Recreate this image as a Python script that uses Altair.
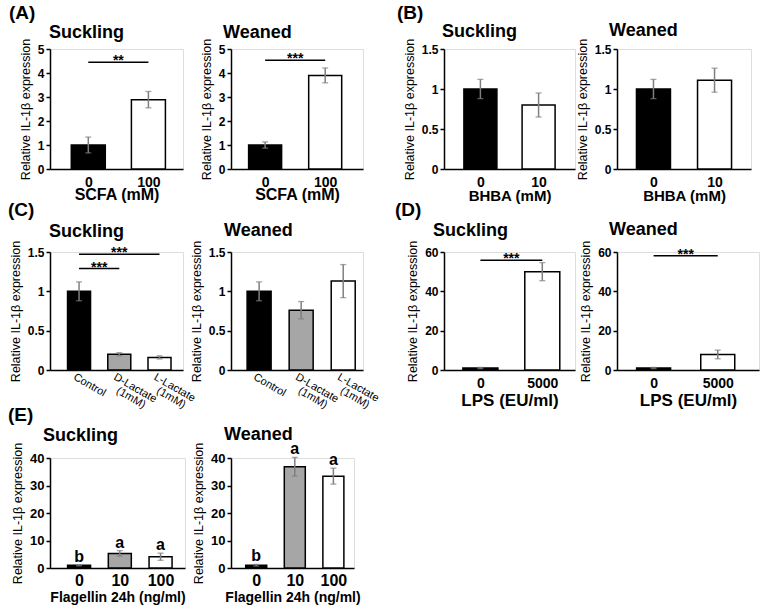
import json
import altair as alt
import pandas as pd

FONT = "Liberation Sans"
Y_TITLE = "Relative IL-1β expression"
ERR_GREY = "#7f7f7f"

# ---------------- data ----------------
# (A) short-chain fatty acids
scfa_doses = ["0", "100"]
scfa_suckling_mean = [1.00, 2.89]
scfa_suckling_sem = [0.33, 0.34]
scfa_weaned_mean = [1.00, 3.90]
scfa_weaned_sem = [0.13, 0.31]
scfa_yticks = [0, 1, 2, 3, 4, 5]
scfa_suckling_sig = [(0, 1, 4.45, "**")]
scfa_weaned_sig = [(0, 1, 4.53, "***")]

# (B) beta-hydroxybutyrate
bhba_doses = ["0", "10"]
bhba_suckling_mean = [1.00, 0.80]
bhba_suckling_sem = [0.12, 0.15]
bhba_weaned_mean = [1.00, 1.11]
bhba_weaned_sem = [0.12, 0.15]
bhba_yticks = [0, 0.5, 1, 1.5]

# (C) lactate isomers
lactate_groups = ["Control", "D-Lactate\n(1mM)", "L-Lactate\n(1mM)"]
lactate_suckling_mean = [1.00, 0.20, 0.16]
lactate_suckling_sem = [0.12, 0.02, 0.02]
lactate_weaned_mean = [1.00, 0.76, 1.13]
lactate_weaned_sem = [0.12, 0.11, 0.21]
lactate_yticks = [0, 0.5, 1, 1.5]
lactate_suckling_sig = [(0, 2, 1.47, "***"), (0, 1, 1.29, "***")]

# (D) lipopolysaccharide
lps_doses = ["0", "5000"]
lps_suckling_mean = [1.0, 50.0]
lps_suckling_sem = [0.3, 4.6]
lps_weaned_mean = [1.0, 7.9]
lps_weaned_sem = [0.3, 2.2]
lps_yticks = [0, 20, 40, 60]
lps_suckling_sig = [(0, 1, 55.8, "***")]
lps_weaned_sig = [(0, 1, 58.1, "***")]

# (E) flagellin, 24 h
flag_doses = ["0", "10", "100"]
flag_suckling_mean = [1.0, 5.3, 4.1]
flag_suckling_sem = [0.2, 1.0, 1.3]
flag_weaned_mean = [1.0, 36.8, 33.4]
flag_weaned_sem = [0.3, 3.4, 2.9]
flag_letters = ["b", "a", "a"]
flag_yticks = [0, 10, 20, 30, 40]

fills_2 = ["#000000", "#ffffff"]
fills_3 = ["#000000", "#a6a6a6", "#ffffff"]

# slanted category names: first line starts at the bar centre, a second
# line sits centred beneath it (offsets are in the rotated text frame)
SLANT_ANGLE = 30
SLANT_LINES = [
    {"align": "left", "dx": -1, "dy": 8},
    {"align": "center", "dx": 24, "dy": 18.5},
]


def bar_table(labels, means, sems, fills, letters=None):
    return pd.DataFrame({
        "pos": list(range(len(labels))),
        "label": labels,
        "mean": means,
        "lo": [m - s for m, s in zip(means, sems)],
        "hi": [m + s for m, s in zip(means, sems)],
        "fill": fills,
        "letter": letters if letters else [""] * len(labels),
    })


def text_layer(text, x, y, size):
    return alt.Chart(pd.DataFrame({"k": [0]})).mark_text(
        text=text, align="left", baseline="alphabetic", font=FONT,
        fontSize=size, fontWeight="bold", color="black",
    ).encode(x=alt.value(x), y=alt.value(y))


def spacer(w=1, h=1):
    # an empty cell that only reserves room in the grid
    return alt.Chart(pd.DataFrame({"k": [0]})).mark_text(
        text=" ", opacity=0).encode(x=alt.value(0), y=alt.value(0)).properties(
        width=w, height=h,
        view=alt.ViewBackground(strokeOpacity=0, fillOpacity=0, strokeWidth=0))


def panel(labels, means, sems, fills, yticks, *, width, height, c0, step, bar,
          title, title_xy, letter=None, letter_xy=(0, 0), xtitle=None,
          xtitle_y=30, xtitle_size=16, xlabel_size=14, ylabel_size=12,
          rotated=False, sig=(), letters=None):
    df = bar_table(labels, means, sems, fills, letters)
    n = len(labels)
    xdom = [-c0 / step, (width - c0) / step]

    if rotated:
        xaxis = alt.Axis(
            values=list(range(n)), labels=False, title=None, ticks=False,
            grid=False, domainColor="black", domainWidth=1.5,
        )
    else:
        expr = json.dumps(labels) + "[datum.value]"
        xaxis = alt.Axis(
            values=list(range(n)), labelExpr=expr, title=xtitle, ticks=False,
            grid=False, labelAngle=0, labelBaseline="alphabetic",
            labelPadding=17, labelFontSize=xlabel_size, labelFontWeight="bold",
            labelOverlap=False, labelFlush=False,
            titleFontSize=xtitle_size, titleFontWeight="bold",
            titleBaseline="alphabetic", titleY=xtitle_y, titleColor="black",
            domainColor="black", domainWidth=1.5, labelColor="black",
        )
    xscale = alt.Scale(domain=xdom, nice=False, zero=False)
    yaxis = alt.Axis(
        values=yticks, format="~f", title=Y_TITLE, grid=False, tickSize=4,
        tickWidth=1.5, tickColor="black", domainColor="black", domainWidth=1.5,
        labelFontSize=ylabel_size, labelFontWeight="bold", labelPadding=2,
        labelColor="black", titleFontSize=12.5, titleFontWeight="normal",
        titlePadding=5, titleColor="black",
    )
    yscale = alt.Scale(domain=[0, yticks[-1]], nice=False)

    def xe(field):
        return alt.X(field, scale=xscale, axis=xaxis)

    def ye(field):
        return alt.Y(field, scale=yscale, axis=yaxis)

    base = alt.Chart(df)
    bars = base.mark_bar(size=bar, stroke="black", strokeWidth=1.5).encode(
        x=xe("pos:Q"), y=ye("mean:Q"),
        fill=alt.Fill("fill:N", scale=None, legend=None),
    )
    err = base.mark_rule(color=ERR_GREY, strokeWidth=1.5).encode(
        x=xe("pos:Q"), y=ye("lo:Q"), y2="hi:Q")
    cap_lo = base.mark_tick(orient="horizontal", size=6, thickness=1.3,
                            color=ERR_GREY).encode(x=xe("pos:Q"), y=ye("lo:Q"))
    cap_hi = base.mark_tick(orient="horizontal", size=6, thickness=1.3,
                            color=ERR_GREY).encode(x=xe("pos:Q"), y=ye("hi:Q"))
    layers = [bars, err, cap_lo, cap_hi]

    if rotated:
        rows = []
        for i, lab in enumerate(labels):
            for k, part in enumerate(lab.split("\n")):
                rows.append({"pos": i, "txt": part, "line": k})
        ldf = pd.DataFrame(rows)
        for k, style in enumerate(SLANT_LINES):
            sub = ldf[ldf["line"] == k].reset_index(drop=True)
            if sub.empty:
                continue
            layers.append(alt.Chart(sub).mark_text(
                angle=SLANT_ANGLE, align=style["align"], baseline="middle",
                dx=style["dx"], dy=style["dy"], font=FONT, fontSize=11,
                color="black",
            ).encode(x=xe("pos:Q"), y=alt.value(height), text="txt:N"))

    if sig:
        sdf = pd.DataFrame(sig, columns=["a", "b", "y", "stars"])
        sdf["mid"] = (sdf["a"] + sdf["b"]) / 2
        sbase = alt.Chart(sdf)
        layers.append(sbase.mark_rule(color="black", strokeWidth=1.5).encode(
            x=xe("a:Q"), x2="b:Q", y=ye("y:Q")))
        layers.append(sbase.mark_text(
            font=FONT, fontSize=14, fontWeight="bold", baseline="alphabetic",
            dy=3, color="black").encode(x=xe("mid:Q"), y=ye("y:Q"), text="stars:N"))

    if letters:
        layers.append(base.mark_text(
            font=FONT, fontSize=16, fontWeight="bold", baseline="alphabetic",
            dy=-3, color="black").encode(x=xe("pos:Q"), y=ye("hi:Q"), text="letter:N"))

    layers.append(text_layer(title, title_xy[0], title_xy[1], 18))
    if letter:
        layers.append(text_layer(letter, letter_xy[0], letter_xy[1], 19))

    return alt.layer(*layers).properties(width=width, height=height)


# ---------------- panels ----------------
a_s = panel(scfa_doses, scfa_suckling_mean, scfa_suckling_sem, fills_2, scfa_yticks,
            width=133, height=120, c0=36, step=65, bar=34,
            title="Suckling", title_xy=(-1, -11), letter="(A)", letter_xy=(-41, -30),
            xtitle="SCFA (mM)", sig=scfa_suckling_sig)
a_w = panel(scfa_doses, scfa_weaned_mean, scfa_weaned_sem, fills_2, scfa_yticks,
            width=132, height=120, c0=31.5, step=65, bar=33,
            title="Weaned", title_xy=(-8, -11),
            xtitle="SCFA (mM)", sig=scfa_weaned_sig)
b_s = panel(bhba_doses, bhba_suckling_mean, bhba_suckling_sem, fills_2, bhba_yticks,
            width=131, height=120, c0=34, step=63, bar=33,
            title="Suckling", title_xy=(-2, -12), letter="(B)", letter_xy=(-47, -30),
            xtitle="BHBA (mM)", xtitle_size=15, xtitle_y=31)
b_w = panel(bhba_doses, bhba_weaned_mean, bhba_weaned_sem, fills_2, bhba_yticks,
            width=134, height=120, c0=34, step=66, bar=34,
            title="Weaned", title_xy=(-8, -13),
            xtitle="BHBA (mM)", xtitle_size=15, xtitle_y=31)

c_s = panel(lactate_groups, lactate_suckling_mean, lactate_suckling_sem, fills_3, lactate_yticks,
            width=133, height=118, c0=26, step=43.5, bar=23,
            title="Suckling", title_xy=(-1, -15), letter="(C)", letter_xy=(-42, -36),
            rotated=True, sig=lactate_suckling_sig)
c_w = panel(lactate_groups, lactate_weaned_mean, lactate_weaned_sem, fills_3, lactate_yticks,
            width=132, height=118, c0=25, step=45.5, bar=24,
            title="Weaned", title_xy=(-7, -16), rotated=True)
d_s = panel(lps_doses, lps_suckling_mean, lps_suckling_sem, fills_2, lps_yticks,
            width=131, height=118, c0=34, step=67, bar=35,
            title="Suckling", title_xy=(-11, -16), letter="(D)", letter_xy=(-49, -36),
            xtitle="LPS (EU/ml)", xtitle_size=17, xtitle_y=35, sig=lps_suckling_sig)
d_w = panel(lps_doses, lps_weaned_mean, lps_weaned_sem, fills_2, lps_yticks,
            width=142, height=118, c0=34, step=69, bar=34,
            title="Weaned", title_xy=(-8, -17),
            xtitle="LPS (EU/ml)", xtitle_size=17, xtitle_y=35, sig=lps_weaned_sig)

e_s = panel(flag_doses, flag_suckling_mean, flag_suckling_sem, fills_3, flag_yticks,
            width=135, height=110, c0=26, step=44, bar=23,
            title="Suckling", title_xy=(-7, -17), letter="(E)", letter_xy=(-42, -37),
            xtitle="Flagellin 24h (ng/ml)", xtitle_size=14, xtitle_y=33,
            xlabel_size=16, ylabel_size=13, letters=flag_letters)
e_w = panel(flag_doses, flag_weaned_mean, flag_weaned_sem, fills_3, flag_yticks,
            width=123, height=110, c0=22, step=42, bar=21,
            title="Weaned", title_xy=(-7, -18),
            xtitle="Flagellin 24h (ng/ml)", xtitle_size=14, xtitle_y=33,
            xlabel_size=16, ylabel_size=13, letters=flag_letters)

# 7-column grid: panels in the odd columns, gaps in the even columns,
# and blank rows between the three panel rows.
cells = [
    a_s, spacer(46), a_w, spacer(81), b_s, spacer(42), b_w,
    spacer(1, 83), spacer(), spacer(), spacer(), spacer(), spacer(), spacer(),
    c_s, spacer(), c_w, spacer(), d_s, spacer(), d_w,
    spacer(1, 88), spacer(), spacer(), spacer(), spacer(), spacer(), spacer(),
    e_s, spacer(), e_w,
]

chart = alt.concat(*cells, columns=7, spacing=0, bounds="flush").properties(
    padding={"left": 7, "top": 3, "right": 0, "bottom": 0},
    background="white",
).configure_view(stroke=None).configure(font=FONT)

chart.save("out.html", embed_options={"renderer": "svg", "actions": False})
